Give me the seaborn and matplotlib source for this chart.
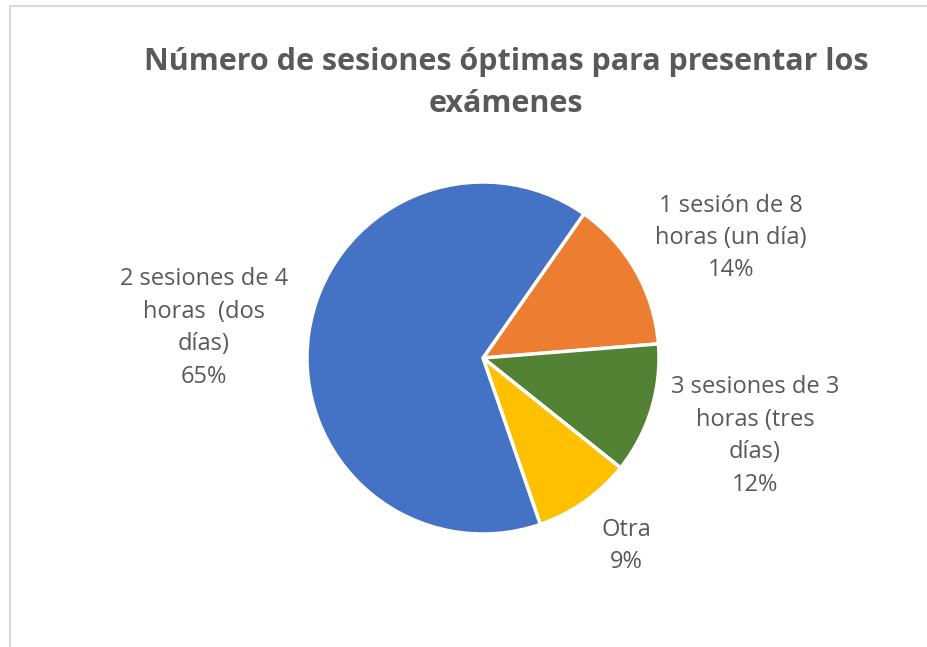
import numpy as np
import matplotlib
matplotlib.use("Agg")
import matplotlib.pyplot as plt
import matplotlib.patches as mpatches
import seaborn as sns

# data (Excel order, clockwise from the first slice)
labels = ["1 sesión de 8\nhoras (un día)", "3 sesiones de 3\nhoras (tres\ndías)",
          "Otra", "2 sesiones de 4\nhoras  (dos\ndías)"]
shares = [14, 12, 9, 65]
colors = ["#ED7D31", "#548235", "#FFC000", "#4472C4"]
title = "Número de sesiones óptimas para presentar los\nexámenes"

# layout, in pixel coords (y up)
W, H = 928, 647
CENTER = (483, H - 358)
RADIUS = 176
LABEL_POS = [(731, H - 238), (755, H - 436), (626, H - 546), (204, H - 328)]
TEXT = "#595959"

sns.set_theme(style="white")
plt.rcParams["font.family"] = ["Open Sans", "DejaVu Sans"]

fig = plt.figure(figsize=(W / 100, H / 100), dpi=100)
ax = fig.add_axes([0, 0, 1, 1])

# chart frame (only top/left edges fall inside the crop)
ax.add_patch(mpatches.Rectangle((10, -20), W + 40, H - 6 + 20, fill=False,
                                edgecolor="#d9d9d9", linewidth=1.5))

ax.pie(shares, colors=colors, startangle=55, counterclock=False,
       center=CENTER, radius=RADIUS, frame=True,
       wedgeprops=dict(edgecolor="white", linewidth=2.5))
ax.set_xlim(0, W)
ax.set_ylim(0, H)
ax.set_aspect("equal")
ax.axis("off")

for lab, val, (x, y) in zip(labels, shares, LABEL_POS):
    ax.text(x, y, f"{lab}\n{val}%", ha="center", va="center",
            fontsize=17, color=TEXT, linespacing=1.47)

ax.text(506, H - 83, title, ha="center", va="center", fontsize=22,
        fontweight="bold", color=TEXT, linespacing=1.55)

fig.savefig("out.png", dpi=100)
